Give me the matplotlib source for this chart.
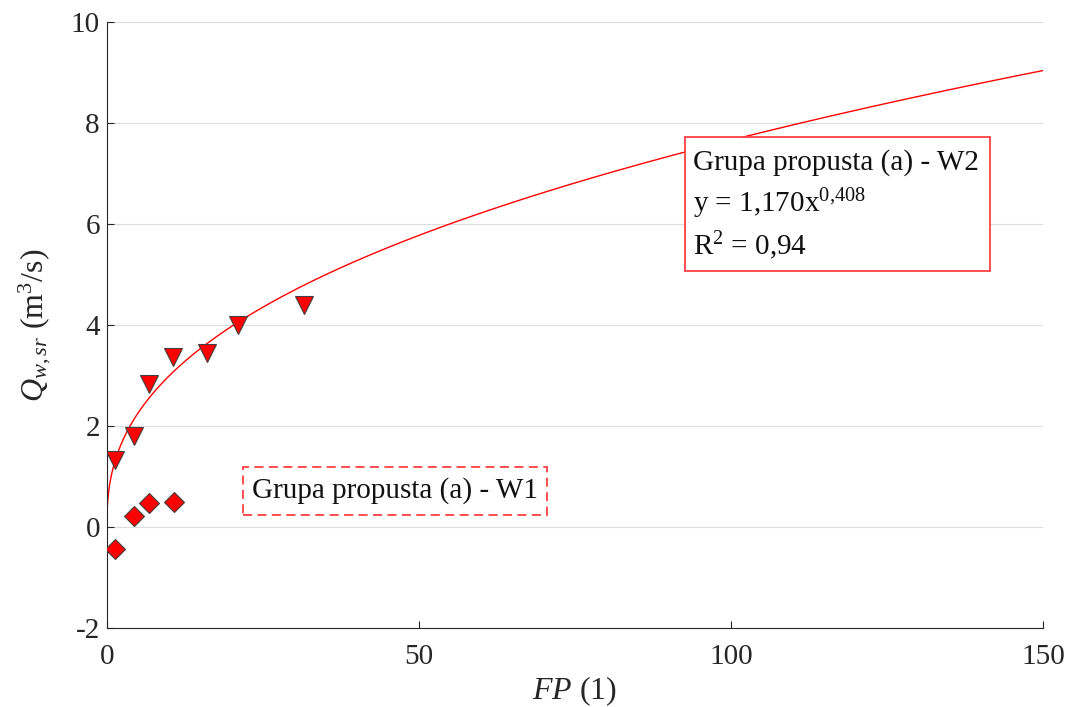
import numpy as np
import matplotlib
matplotlib.use('Agg')
import matplotlib.pyplot as plt
from matplotlib.patches import Rectangle

# W2 group (triangles)
fp_w2 = [1.3, 4.3, 6.7, 10.6, 16.0, 21.0, 31.6]
q_w2 = [1.33, 1.80, 2.83, 3.37, 3.45, 4.00, 4.40]
# W1 group (diamonds)
fp_w1 = [1.3, 4.3, 6.7, 10.7]
q_w1 = [-0.44, 0.22, 0.47, 0.49]

# power fit y = a*x^b
fit_a = 1.170
fit_b = 0.408

plt.rcParams['font.family'] = ['Liberation Serif', 'DejaVu Serif']
plt.rcParams['mathtext.fontset'] = 'custom'
plt.rcParams['mathtext.rm'] = 'Liberation Serif'
plt.rcParams['mathtext.it'] = 'Liberation Serif:italic'
plt.rcParams['axes.unicode_minus'] = False

fig = plt.figure(figsize=(10.69, 7.07), dpi=100)
ax = fig.add_axes([0.100, 0.112, 0.8757, 0.857])

xs = np.concatenate([[0], np.geomspace(1e-4, 150, 2000)])
ax.plot(xs, fit_a * xs**fit_b, color='#ff0000', lw=1.0, zorder=2)

ax.plot(fp_w2, q_w2, linestyle='none', marker='v', ms=13, mfc='#ff0000',
        mec='#404040', mew=0.8, zorder=3)
ax.plot(fp_w1, q_w1, linestyle='none', marker='D', ms=10.5, mfc='#ff0000',
        mec='#404040', mew=0.8, zorder=3)

ax.set_xlim(0, 150)
ax.set_ylim(-2, 10)
ax.set_xticks([0, 50, 100, 150])
ax.set_yticks([-2, 0, 2, 4, 6, 8, 10])
ax.yaxis.grid(True, color='#dcdcdc', lw=0.8)
ax.set_axisbelow(True)
for s in ['top', 'right']:
    ax.spines[s].set_visible(False)
for s in ['left', 'bottom']:
    ax.spines[s].set_color('#262626')
    ax.spines[s].set_linewidth(0.8)
ax.tick_params(direction='in', labelsize=21, colors='#262626', length=5)
ax.tick_params(axis='x', pad=12)
ax.tick_params(axis='y', pad=5)

ax.set_xlabel('$FP$ (1)', fontsize=23, color='#262626')
ax.xaxis.set_label_coords(0.5, -0.077)
ax.set_ylabel('$Q_{w,sr}$ (m$^3$/s)', fontsize=23, color='#262626')
ax.yaxis.set_label_coords(-0.058, 0.5)

# W2 annotation box
ax.add_patch(Rectangle((0.6175, 0.5891), 0.3259, 0.2211, transform=ax.transAxes,
                       fc='white', ec='#ff4040', lw=1.3, zorder=4))
w2_lines = ['Grupa propusta (a) - W2', 'y = 1,170x$^{0{,}408}$', 'R$^2$ = 0,94']
for txt, yy in zip(w2_lines, [0.7558, 0.6865, 0.6155]):
    ax.text(0.626, yy, txt, transform=ax.transAxes, fontsize=21, va='baseline',
            ha='left', color='#111111', zorder=5)

# W1 annotation box
ax.add_patch(Rectangle((0.1453, 0.1865), 0.3248, 0.0792, transform=ax.transAxes,
                       fc='white', ec='#ff4040', lw=1.3, ls=(0, (5, 3)), zorder=4))
ax.text(0.155, 0.2145, 'Grupa propusta (a) - W1', transform=ax.transAxes,
        fontsize=21, va='baseline', ha='left', color='#111111', zorder=5)

fig.savefig('out.png', dpi=100)
